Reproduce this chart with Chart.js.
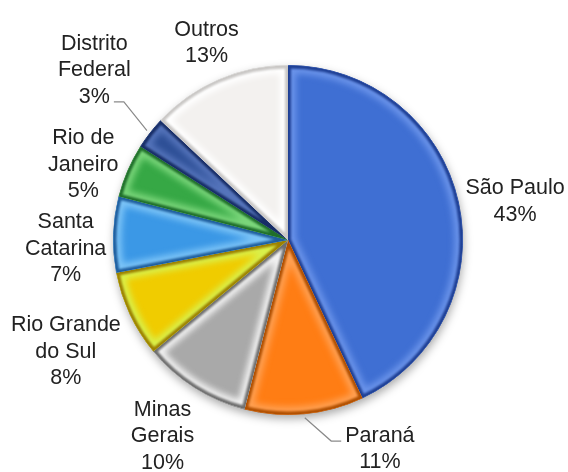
<!DOCTYPE html>
<html>
<head>
<meta charset="utf-8">
<script src="https://cdn.jsdelivr.net/npm/chart.js@4.4.1/dist/chart.umd.min.js"></script>
<style>
  html, body { margin: 0; padding: 0; background: #fff; }
  #wrap { width: 568px; height: 472px; }
</style>
</head>
<body>
<div id="wrap"><canvas id="pie"></canvas></div>
<script>
  // share of each state, clockwise from 12 o'clock
  const states = [['São Paulo'], ['Paraná'], ['Minas', 'Gerais'], ['Rio Grande', 'do Sul'],
                  ['Santa', 'Catarina'], ['Rio de', 'Janeiro'], ['Distrito', 'Federal'], ['Outros']];
  const shares = [43, 11, 10, 8, 7, 5, 3, 13];

  const colors     = ['#3f6fd3', '#ff7d14', '#a9a9a9', '#f0cc00', '#3b98e6', '#36a845', '#2d4f96', '#f3f1ef'];
  const highlights = ['#6b94ea', '#ffa052', '#f2f2f2', '#d9f04a', '#7cc4f7', '#7ad67a', '#5574bb', '#ffffff'];
  const rims       = ['#1e3f94', '#b04f00', '#6e6e6e', '#9c8000', '#1f5e9e', '#1f6e2a', '#172d66', '#c9c7c5'];

  // label placement: turn (deg) from the slice middle, distance in radii
  const labelTurn = [3.0, -18.3, 0.2, -1.5, -4.1, -3.2, 3.4, 0.9];
  const labelDist = [1.32, 1.31, 1.335, 1.425, 1.275, 1.25, 1.475, 1.22];
  const leader    = [false, true, false, false, false, false, true, false];

  const LINE_H = 26.5;
  const FONT = '21.5px "Liberation Sans", Arial, sans-serif';

  const arcPath = (a) => {
    const p = new Path2D();
    p.moveTo(a.x, a.y);
    p.arc(a.x, a.y, a.outerRadius, a.startAngle, a.endAngle);
    p.closePath();
    return p;
  };

  const bevel = {
    id: 'bevel',
    beforeDatasetsDraw(chart) {
      // soft drop shadow under the whole pie
      const a = chart.getDatasetMeta(0).data[0];
      const ctx = chart.ctx;
      ctx.save();
      ctx.shadowColor = 'rgba(0,0,0,0.35)';
      ctx.shadowBlur = 10;
      ctx.shadowOffsetX = 1;
      ctx.shadowOffsetY = 4;
      ctx.fillStyle = '#fff';
      ctx.beginPath();
      ctx.arc(a.x, a.y, a.outerRadius, 0, Math.PI * 2);
      ctx.fill();
      ctx.restore();
    },
    afterDatasetsDraw(chart) {
      const ctx = chart.ctx;
      chart.getDatasetMeta(0).data.forEach((a, i) => {
        const p = arcPath(a);
        ctx.save();
        ctx.clip(p);
        ctx.lineJoin = 'round';
        ctx.filter = 'blur(3px)';
        ctx.strokeStyle = highlights[i];
        ctx.lineWidth = 16;
        ctx.stroke(p);
        ctx.filter = 'blur(1px)';
        ctx.strokeStyle = rims[i];
        ctx.lineWidth = 6;
        ctx.stroke(p);
        ctx.restore();
      });
    }
  };

  const outsideLabels = {
    id: 'outsideLabels',
    afterDraw(chart) {
      const ctx = chart.ctx;
      const labels = chart.data.labels;
      const values = chart.data.datasets[0].data;
      ctx.save();
      ctx.font = FONT;
      ctx.textAlign = 'center';
      ctx.textBaseline = 'middle';
      chart.getDatasetMeta(0).data.forEach((a, i) => {
        const mid = (a.startAngle + a.endAngle) / 2;
        const ang = mid + labelTurn[i] * Math.PI / 180;
        const r = a.outerRadius * labelDist[i];
        const cx = a.x + Math.cos(ang) * r;
        const cy = a.y + Math.sin(ang) * r;
        const lines = labels[i].concat([values[i] + '%']);
        const top = cy - (lines.length - 1) * LINE_H / 2;

        if (leader[i]) {
          const ex = a.x + Math.cos(mid) * (a.outerRadius + 4);
          const ey = a.y + Math.sin(mid) * (a.outerRadius + 4);
          // attach to the text line nearest the slice
          let k = 0, best = Infinity;
          lines.forEach((t, j) => {
            const d = Math.abs(top + j * LINE_H - ey);
            if (d < best) { best = d; k = j; }
          });
          const ly = top + k * LINE_H + 5;
          const half = ctx.measureText(lines[k]).width / 2;
          const side = ex > cx ? 1 : -1;
          const tx = cx + side * (half + 4);
          const bx = tx + side * 10;
          ctx.strokeStyle = '#8a8a8a';
          ctx.lineWidth = 1.2;
          ctx.beginPath();
          ctx.moveTo(ex, ey);
          ctx.lineTo(bx, ly);
          ctx.lineTo(tx, ly);
          ctx.stroke();
        }

        ctx.fillStyle = '#222';
        lines.forEach((t, j) => ctx.fillText(t, cx, top + j * LINE_H));
      });
      ctx.restore();
    }
  };

  new Chart(document.getElementById('pie'), {
    type: 'pie',
    data: {
      labels: states,
      datasets: [{
        data: shares,
        backgroundColor: colors,
        borderColor: rims,
        borderWidth: 1
      }]
    },
    options: {
      responsive: true,
      maintainAspectRatio: false,
      animation: false,
      layout: { padding: { top: 64, bottom: 56, left: 113, right: 105 } },
      plugins: {
        legend: { display: false },
        tooltip: { enabled: false }
      }
    },
    plugins: [bevel, outsideLabels]
  });
</script>
</body>
</html>
